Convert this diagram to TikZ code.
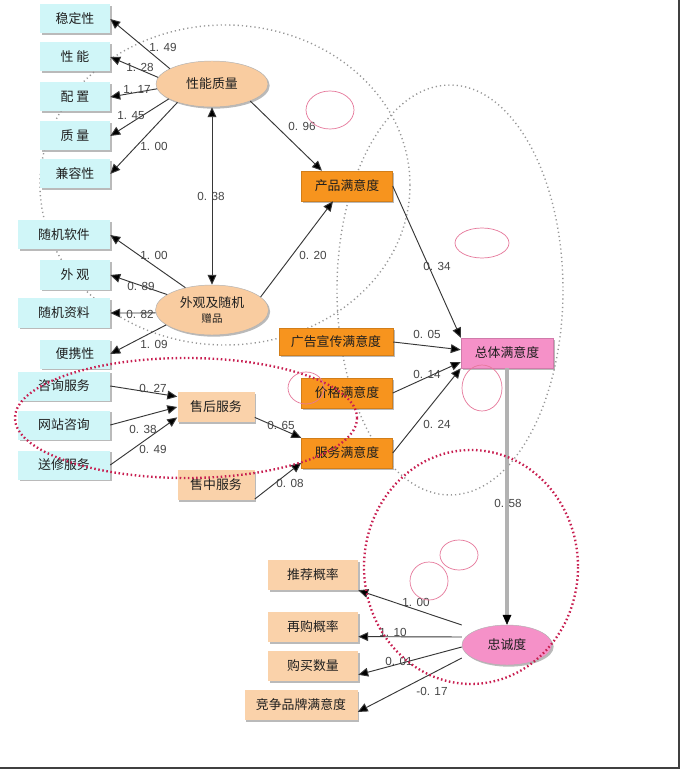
\documentclass[tikz,border=0pt]{standalone}
\usepackage{fontspec}
\setmainfont{Liberation Sans}
\newfontfamily\cjk{Noto Sans CJK SC}
\usetikzlibrary{arrows.meta,shapes.geometric,shadows}

\definecolor{indcyan}{RGB}{208,246,248}
\definecolor{latorange}{RGB}{249,204,160}
\definecolor{suborange}{RGB}{250,210,170}
\definecolor{satorange}{RGB}{247,148,30}
\definecolor{totpink}{RGB}{245,145,200}
\definecolor{txtdark}{RGB}{30,30,30}
\definecolor{lblgray}{RGB}{70,70,70}
\definecolor{linkgray}{RGB}{55,55,55}
\definecolor{dotgray}{RGB}{150,150,150}
\definecolor{dotred}{RGB}{200,30,80}
\definecolor{markpink}{RGB}{230,120,155}

\tikzset{
  shadowed/.style={drop shadow={shadow xshift=0.05cm,shadow yshift=-0.05cm,fill=black!45,opacity=0.6}},
  ind/.style={rectangle,fill=indcyan,minimum width=2.1cm,minimum height=0.87cm,inner sep=0pt,
    font=\cjk\fontsize{11}{13}\selectfont,text=txtdark,shadowed},
  indw/.style={ind,minimum width=2.76cm},
  lat/.style={ellipse,fill=latorange,draw=black!30,inner sep=0pt,
    font=\cjk\fontsize{11}{13}\selectfont,text=txtdark,shadowed,align=center},
  sub/.style={rectangle,fill=suborange,minimum width=2.7cm,minimum height=0.9cm,inner sep=0pt,
    font=\cjk\fontsize{11}{13}\selectfont,text=txtdark,shadowed},
  sat/.style={rectangle,fill=satorange,draw=satorange!85!black,minimum width=2.73cm,minimum height=0.9cm,
    inner sep=0pt,font=\cjk\fontsize{11}{13}\selectfont,text=txtdark,shadowed},
  lbl/.style={font=\fontsize{10}{12}\selectfont,text=lblgray,inner sep=0pt},
  link/.style={draw=linkgray,line width=0.8pt,-{Triangle[length=8.5pt,width=7.5pt,fill=black]}},
  graydot/.style={draw=dotgray,line width=1.2pt,dash pattern=on 1pt off 2.6pt},
  reddot/.style={draw=dotred,line width=2pt,dash pattern=on 1.3pt off 2.2pt},
  pinkmark/.style={draw=markpink,line width=0.6pt}
}

\begin{document}
\begin{tikzpicture}[x=0.03cm,y=-0.03cm]
  \useasboundingbox[fill=white] (0,0) rectangle (680,769);
  % grey dotted areas
  \draw[graydot] (225,185) ellipse [x radius=185,y radius=160];
  \draw[graydot] (450,290) ellipse [x radius=113,y radius=205];

  % observed indicators
  \node[ind]  (wending)  at (75,19)  {稳定性};
  \node[ind]  (xingneng) at (75,57)  {性 能};
  \node[ind]  (peizhi)   at (75,97)  {配 置};
  \node[ind]  (zhiliang) at (75,136) {质 量};
  \node[ind]  (jianrong) at (75,174) {兼容性};
  \node[indw] (ruanjian) at (64,235) {随机软件};
  \node[ind]  (waiguan)  at (75,275) {外 观};
  \node[indw] (ziliao)   at (64,313) {随机资料};
  \node[ind]  (bianxie)  at (75,354) {便携性};
  \node[indw] (zixun)    at (64,386) {咨询服务};
  \node[indw] (wangzhan) at (64,425) {网站咨询};
  \node[indw] (songxiu)  at (64,465) {送修服务};

  % latent variables
  \node[lat,minimum width=3.36cm,minimum height=1.38cm] (xnzl) at (212,84) {性能质量};
  \node[lat,minimum width=3.39cm,minimum height=1.5cm] (wgzp) at (212,310) {外观及随机\\[-1pt]{\fontsize{9}{11}\selectfont 赠品}};
  \node[lat,fill=totpink,minimum width=2.7cm,minimum height=1.2cm] (zcd) at (507,645) {忠诚度};

  % service
  \node[sub,minimum width=2.31cm] (shouhou)   at (216,407) {售后服务};
  \node[sub,minimum width=2.31cm] (shouzhong) at (216,485) {售中服务};

  % satisfaction
  \node[sat] (chanpin)  at (347,186) {产品满意度};
  \node[sat,minimum width=3.42cm,minimum height=0.8cm] (guanggao) at (336,342) {广告宣传满意度};
  \node[sat] (jiage)    at (347,393) {价格满意度};
  \node[sat] (fuwu)     at (347,453) {服务满意度};
  \node[sat,fill=totpink,draw=totpink!85!black,minimum width=2.76cm] (zongti) at (507,353) {总体满意度};

  % loyalty indicators
  \node[sub] (tuijian)    at (313,575) {推荐概率};
  \node[sub] (zaigou)     at (313,627) {再购概率};
  \node[sub] (goumai)     at (313,666) {购买数量};
  \node[sub,minimum width=3.39cm] (jingzheng) at (301,705) {竞争品牌满意度};

  % loadings
  \draw[link] (xnzl.160) -- (wending.east);
  \draw[link] (xnzl.173) -- (xingneng.east);
  \draw[link] (xnzl.185) -- (peizhi.east);
  \draw[link] (xnzl.199) -- (zhiliang.east);
  \draw[link] (xnzl.208) -- (jianrong.east);
  \draw[link] (wgzp.140) -- (ruanjian.east);
  \draw[link] (wgzp.161) -- (waiguan.east);
  \draw[link] (wgzp.183) -- (ziliao.east);
  \draw[link] (wgzp.198) -- (bianxie.east);
  \draw[link,{Triangle[length=8.5pt,width=7.5pt,fill=black]}-{Triangle[length=8.5pt,width=7.5pt,fill=black]}] (xnzl) -- (wgzp);

  % paths
  \draw[link] (xnzl.-24) -- ([xshift=-0.75cm]chanpin.north);
  \draw[link] (wgzp.15) -- ([xshift=-0.42cm]chanpin.south);
  \draw[link] (zixun.east) -- (shouhou.165);
  \draw[link] (wangzhan.east) -- (shouhou.west);
  \draw[link] (songxiu.east) -- (shouhou.195);
  \draw[link] (shouhou.-15) -- (fuwu.north west);
  \draw[link] (shouzhong.-20) -- (fuwu.192);
  \draw[link] (chanpin.east) -- (zongti.north west);
  \draw[link] (guanggao.east) -- (zongti.176);
  \draw[link] (jiage.east) -- (zongti.191);
  \draw[link] (fuwu.east) -- (zongti.south west);
  \draw[draw=gray!60,line width=2.6pt,-{Triangle[length=8.5pt,width=7.5pt,color=black,line width=0.4pt]}] (zongti) -- (zcd);
  \draw[link] ([yshift=0.6cm]zcd.west) -- (tuijian.south east);
  \draw[link] ([yshift=0.24cm]zcd.west) -- (zaigou.-12);
  \draw[link] ([yshift=-0.06cm]zcd.west) -- (goumai.-11);
  \draw[link] ([yshift=-0.39cm]zcd.west) -- (jingzheng.-7);

  % coefficients
  \node[lbl] at (163,47)  {1. 49};
  \node[lbl] at (140,67)  {1. 28};
  \node[lbl] at (137,89)  {1. 17};
  \node[lbl] at (131,116) {1. 45};
  \node[lbl] at (154,146) {1. 00};
  \node[lbl] at (302,126) {0. 96};
  \node[lbl] at (211,196) {0. 38};
  \node[lbl] at (154,255) {1. 00};
  \node[lbl] at (141,286) {0. 89};
  \node[lbl] at (140,314) {0. 82};
  \node[lbl] at (154,344) {1. 09};
  \node[lbl] at (313,255) {0. 20};
  \node[lbl] at (153,388) {0. 27};
  \node[lbl] at (143,429) {0. 38};
  \node[lbl] at (153,449) {0. 49};
  \node[lbl] at (281,425) {0. 65};
  \node[lbl] at (290,483) {0. 08};
  \node[lbl] at (437,266) {0. 34};
  \node[lbl] at (427,334) {0. 05};
  \node[lbl] at (427,374) {0. 14};
  \node[lbl] at (437,424) {0. 24};
  \node[lbl] at (508,503) {0. 58};
  \node[lbl] at (416,602) {1. 00};
  \node[lbl] at (393,632) {1. 10};
  \node[lbl] at (399,661) {0. 01};
  \node[lbl] at (432,691) {-0. 17};

  % red dotted areas and pink marks
  \draw[reddot] (186,418) ellipse [x radius=171,y radius=60];
  \draw[reddot] (471,567) ellipse [x radius=107,y radius=117];
  \draw[pinkmark] (330,110) ellipse [x radius=24,y radius=19];
  \draw[pinkmark] (482,243) ellipse [x radius=27,y radius=15];
  \draw[pinkmark] (482,388) ellipse [x radius=20,y radius=23];
  \draw[pinkmark] (306,388) ellipse [x radius=18,y radius=16];
  \draw[pinkmark] (459,555) ellipse [x radius=19,y radius=15];
  \draw[pinkmark] (429,581) ellipse [x radius=19,y radius=19];

  % frame
  \draw[black!75,line width=2pt] (679,0) -- (679,769);
  \draw[black!75,line width=2pt] (0,768) -- (680,768);
\end{tikzpicture}
\end{document}
